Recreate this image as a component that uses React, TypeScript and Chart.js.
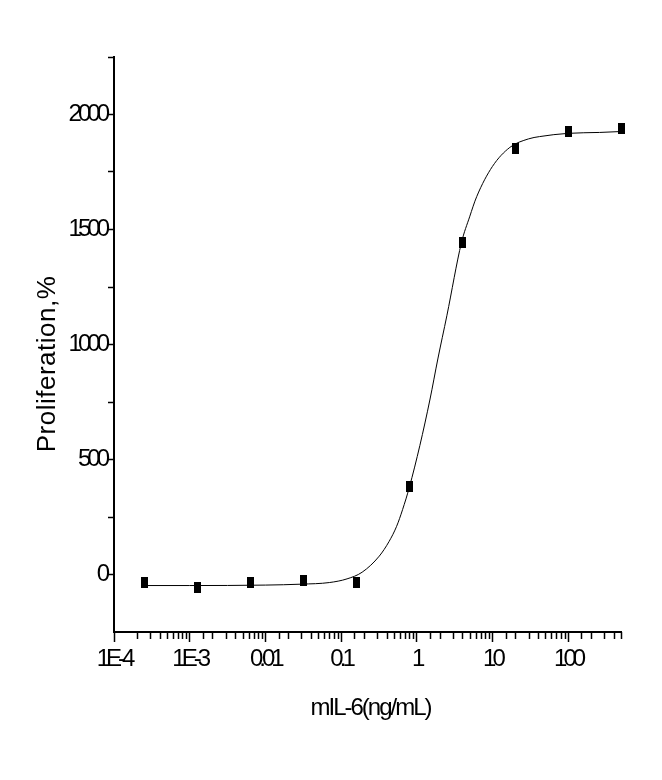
import React, { useEffect, useRef } from 'react';
import { Chart, registerables } from 'chart.js';

Chart.register(...registerables);

// measured points (5-fold dilution series)
const doseValues = [0.000256, 0.00128, 0.0064, 0.032, 0.16, 0.8, 4, 20, 100, 500];
const proliferationValues = [-33, -57, -33, -26, -36, 383, 1443, 1852, 1926, 1939];

// fitted curve
const curveDose = [0.000256, 0.001, 0.01, 0.03, 0.07, 0.12, 0.19, 0.32, 0.43, 0.54, 0.65, 0.8, 1.1, 1.5, 1.9, 2.5, 3.9, 5, 6.2, 10, 17, 30, 42, 100, 260, 500];
const curveValues = [-48, -48, -46, -42, -35, -19, 10, 80, 143, 208, 282, 380, 561, 763, 937, 1125, 1443, 1555, 1643, 1774, 1857, 1894, 1904, 1918, 1922, 1926];

const decadeValues = [0.0001, 0.001, 0.01, 0.1, 1, 10, 100];
const decadeLabels = ['1E-4', '1E-3', '0.01', '0.1', '1', '10', '100'];

const xTitle = 'mIL-6(ng/mL)';
const yTitle = 'Proliferation,%';

const FONT = '"Liberation Sans", Arial, Helvetica, sans-serif';

const decadeIndex = (v: number) => decadeValues.findIndex(d => Math.abs(d - v) / d < 1e-6);

const makeMarker = () => {
    const c = document.createElement('canvas');
    c.width = 7;
    c.height = 11;
    const g = c.getContext('2d');
    if (g) {
        g.fillStyle = '#000';
        g.fillRect(0, 0, 7, 11);
    }
    return c;
};

const axisDecor = {
    id: 'axisDecor',
    beforeDraw(chart: any) {
        chart.ctx.letterSpacing = '-4px';
    },
    afterDraw(chart: any) {
        const { ctx, chartArea, scales } = chart;
        ctx.save();
        ctx.letterSpacing = '0px';
        ctx.strokeStyle = '#000';
        ctx.lineWidth = 1.5;
        // minor ticks on the log axis
        scales.x.ticks.forEach((t: any) => {
            if (decadeIndex(t.value) >= 0) return;
            const px = Math.round(scales.x.getPixelForValue(t.value)) + 0.5;
            ctx.beginPath();
            ctx.moveTo(px, chartArea.bottom);
            ctx.lineTo(px, chartArea.bottom + 7);
            ctx.stroke();
        });
        ctx.fillStyle = '#000';
        // x title
        ctx.letterSpacing = '-2px';
        ctx.font = `24px ${FONT}`;
        ctx.textAlign = 'center';
        ctx.textBaseline = 'alphabetic';
        ctx.fillText(xTitle, (chartArea.left + chartArea.right) / 2 + 3, 715);
        // y title
        ctx.letterSpacing = '0.5px';
        ctx.font = `26px ${FONT}`;
        ctx.translate(55, 364);
        ctx.rotate(-Math.PI / 2);
        ctx.fillText(yTitle, 0, 0);
        ctx.restore();
        ctx.letterSpacing = '0px';
    },
};

const App: React.FC = () => {
    const chartRef = useRef<HTMLCanvasElement>(null);
    const chartInstanceRef = useRef<Chart | null>(null);

    useEffect(() => {
        if (!chartRef.current) return;
        const ctx = chartRef.current.getContext('2d');
        if (!ctx) return;
        if (chartInstanceRef.current) chartInstanceRef.current.destroy();

        chartInstanceRef.current = new Chart(ctx, {
            type: 'scatter',
            data: {
                datasets: [
                    {
                        label: 'fit',
                        data: curveDose.map((x, i) => ({ x, y: curveValues[i] })),
                        showLine: true,
                        borderColor: '#000',
                        borderWidth: 1,
                        pointRadius: 0,
                        cubicInterpolationMode: 'monotone',
                    },
                    {
                        label: 'data',
                        data: doseValues.map((x, i) => ({ x, y: proliferationValues[i] })),
                        pointStyle: makeMarker(),
                        backgroundColor: '#000',
                        borderColor: '#000',
                        clip: false,
                    },
                ],
            } as any,
            options: {
                responsive: false,
                animation: false,
                layout: { padding: { top: 57, right: 41, left: 0, bottom: 0 } },
                plugins: {
                    legend: { display: false },
                    tooltip: { enabled: false },
                },
                scales: {
                    x: {
                        type: 'logarithmic',
                        min: 0.0001,
                        max: 500,
                        afterFit: (s: any) => { s.height = 148; },
                        border: { display: true, color: '#000', width: 2 },
                        grid: {
                            display: true,
                            drawOnChartArea: false,
                            drawTicks: true,
                            tickLength: 10,
                            tickWidth: 1.5,
                            tickColor: (c: any) => (c.tick && decadeIndex(c.tick.value) >= 0 ? '#000' : 'rgba(0,0,0,0)'),
                        },
                        ticks: {
                            autoSkip: false,
                            maxRotation: 0,
                            padding: 3,
                            color: '#000',
                            font: { family: FONT, size: 24 },
                            callback: (v: any) => {
                                const i = decadeIndex(Number(v));
                                return i >= 0 ? decadeLabels[i] : '';
                            },
                        },
                    },
                    y: {
                        type: 'linear',
                        min: -250,
                        max: 2250,
                        afterFit: (s: any) => { s.width = 114; },
                        border: { display: true, color: '#000', width: 2 },
                        grid: {
                            display: true,
                            drawOnChartArea: false,
                            drawTicks: true,
                            tickLength: 6,
                            tickWidth: 1.5,
                            tickColor: (c: any) => (c.tick && c.tick.value === -250 ? 'rgba(0,0,0,0)' : '#000'),
                        },
                        ticks: {
                            stepSize: 250,
                            padding: 2,
                            color: '#000',
                            font: { family: FONT, size: 24 },
                            callback: (v: any) => (Number(v) % 500 === 0 ? String(v) : ''),
                        },
                    },
                },
            },
            plugins: [axisDecor],
        });

        return () => {
            if (chartInstanceRef.current) {
                chartInstanceRef.current.destroy();
                chartInstanceRef.current = null;
            }
        };
    }, []);

    return (
        <div style={{ position: 'fixed', left: 0, top: 0, width: 662, height: 780, background: '#fff' }}>
            <canvas ref={chartRef} width={662} height={780}></canvas>
        </div>
    );
};

export default App;
